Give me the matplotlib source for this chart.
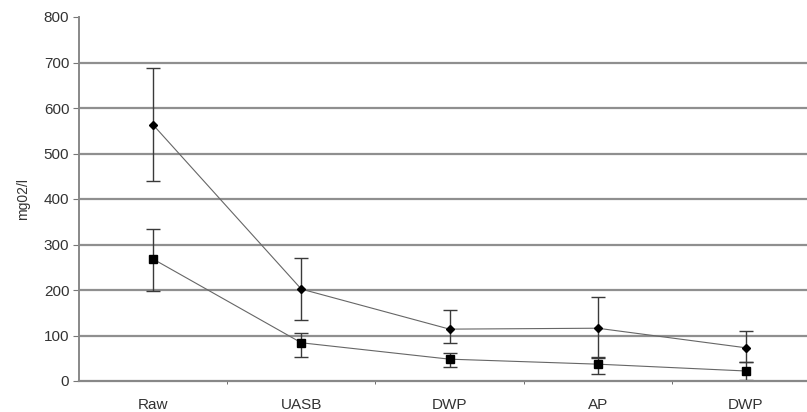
import matplotlib.pyplot as plt

plt.rcParams['font.family'] = ['Liberation Sans', 'DejaVu Sans']

# stages along the treatment line
stages = ['Raw', 'UASB', 'DWP', 'AP', 'DWP']

# upper series (diamonds)
upper = [563, 202, 114, 116, 73]
upper_hi = [687, 270, 156, 185, 110]
upper_lo = [440, 134, 84, 50, 42]

# lower series (squares)
lower = [268, 84, 48, 37, 22]
lower_hi = [333, 105, 62, 53, 42]
lower_lo = [197, 53, 31, 15, 2]

yticks = [0, 100, 200, 300, 400, 500, 600, 700, 800]

fig = plt.figure(figsize=(8.07, 4.12), dpi=100)
ax = fig.add_axes([79 / 807, 31 / 412, 741 / 807, 364 / 412])

x = list(range(len(stages)))

# horizontal grid lines
for y in yticks[1:-1]:
    ax.axhline(y, color='#8f8f8f', lw=1.6, zorder=0)

def draw(vals, hi, lo, marker, ms):
    err = [[v - l for v, l in zip(vals, lo)], [h - v for v, h in zip(vals, hi)]]
    ax.errorbar(x, vals, yerr=err, fmt='none', ecolor='#3a3a3a', elinewidth=1.0,
                capsize=5, capthick=1.0, zorder=2)
    ax.plot(x, vals, color='#666666', lw=0.8, marker=marker, ms=ms,
            mfc='black', mec='black', zorder=3)

draw(upper, upper_hi, upper_lo, 'D', 4.5)
draw(lower, lower_hi, lower_lo, 's', 5.5)

ax.set_xlim(-0.5, 4.5)
ax.set_ylim(0, 800)
ax.set_yticks(yticks)
ax.set_xticks(x)
ax.set_xticklabels(stages)
ax.set_xticks([0.5, 1.5, 2.5, 3.5], minor=True)
ax.tick_params(axis='x', which='major', length=0, pad=12, labelsize=11, colors='#333333')
ax.tick_params(axis='x', which='minor', length=2.5, direction='out', color='#555555')
ax.tick_params(axis='y', length=4, direction='out', color='#777777', labelsize=11,
               labelcolor='#333333', pad=3)
ax.set_ylabel('mg02/l', fontsize=10, color='#333333', labelpad=10)

for s in ['top', 'right']:
    ax.spines[s].set_visible(False)
ax.spines['left'].set_color('#888888')
ax.spines['left'].set_linewidth(1.4)
ax.spines['bottom'].set_color('#888888')
ax.spines['bottom'].set_linewidth(1.6)

fig.savefig('out.png', dpi=100)
